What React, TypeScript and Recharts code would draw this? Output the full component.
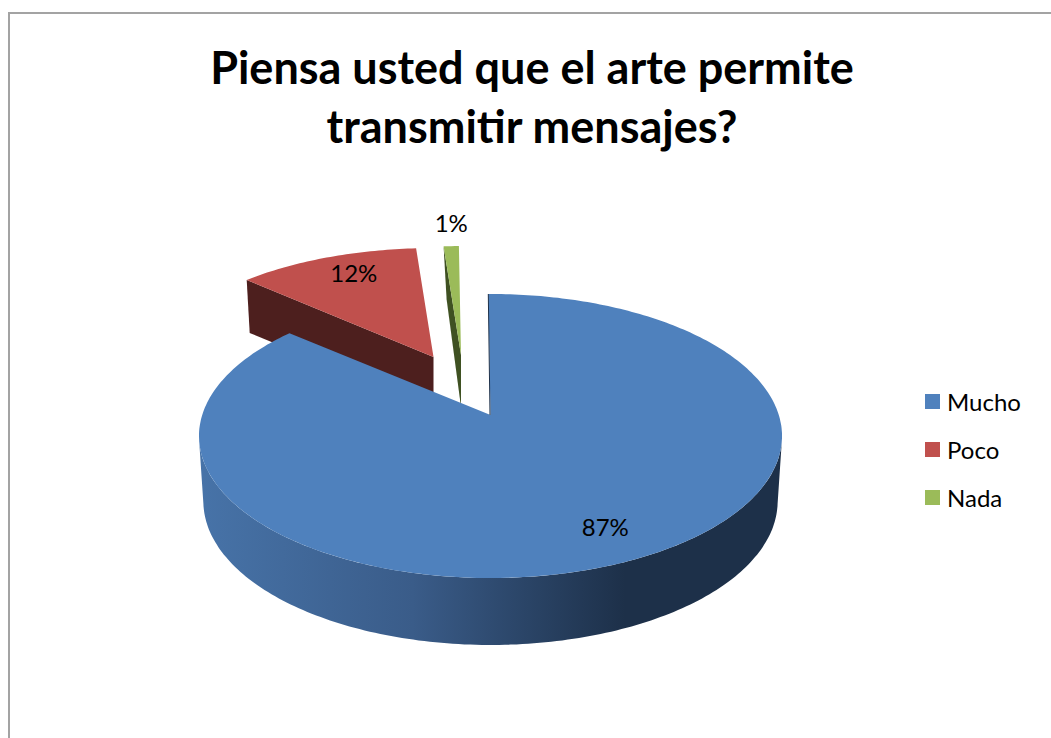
import { PieChart, Pie, Legend } from 'recharts'

const categories = ['Mucho', 'Poco', 'Nada']
const values = [87, 12, 1]
const topColors = ['#4f81bd', '#c0504d', '#9bbb59']
const cutColors = ['#1d3049', '#4d1f1e', '#3f5122']
const titleLines = ['Piensa usted que el arte permite', 'transmitir mensajes?']

const data = categories.map((name, i) => ({ name, value: values[i], fill: topColors[i] }))

// look of the tilted pie, fitted by eye
const PIE_X = 490.5
const PIE_Y = 415
const RADIUS = 288.3
const TILT = 138.9
const PERSPECTIVE = -0.1479
const BIG_SLICE_TRIM = 2.5 // the 3D view makes the big slice stop a bit short of its share
const EXPLODE: Record<string, { dx: number; dy: number; sx: number; sy: number }> = {
  Mucho: { dx: 0, dy: 0, sx: 1, sy: 1 },
  Poco: { dx: -57, dy: -58, sx: 0.97, sy: 0.9 },
  Nada: { dx: -29.5, dy: -60, sx: 0.97, sy: 0.9 },
}
const LABEL_SPOT: Record<string, { f: number; dx: number; dy: number }> = {
  Mucho: { f: 0.8, dx: 10, dy: -2 },
  Poco: { f: 0.75, dx: 3, dy: -8 },
  Nada: { f: 1, dx: 0, dy: -24 },
}
const FONT = 'Lato, sans-serif'

function project(name: string, angle: number, f = 1) {
  const e = EXPLODE[name]
  const rad = ((90 - angle) * Math.PI) / 180
  const u = Math.sin(rad) * f
  const v = -Math.cos(rad) * f
  const d = 1 + PERSPECTIVE * v
  return {
    x: PIE_X + e.dx + (RADIUS * u * e.sx) / d,
    y: PIE_Y + e.dy + (TILT * v * e.sy) / d,
  }
}

function rim(name: string, from: number, to: number) {
  const pts = []
  const steps = Math.max(2, Math.ceil(Math.abs(to - from)))
  for (let i = 0; i <= steps; i++) pts.push(project(name, from + ((to - from) * i) / steps))
  return pts
}

const toPath = (pts: { x: number; y: number }[]) =>
  pts.map((p, i) => `${i ? 'L' : 'M'}${p.x.toFixed(1)},${p.y.toFixed(1)}`).join(' ') + ' Z'

function BigSlice(props: any) {
  const { name, startAngle, endAngle } = props
  const apex = project(name, 0, 0)
  const top = rim(name, startAngle, endAngle + BIG_SLICE_TRIM)
  // front wall: between the widest points of the rim
  const front = rim(name, -9.5, -170.5)
  const lower = front.map((p) => ({
    x: PIE_X + (p.x - PIE_X) * 0.985,
    y: p.y + 65 + (p.y - PIE_Y) * 0.012,
  }))
  return (
    <g>
      <defs>
        <linearGradient id="wallBlue" gradientUnits="userSpaceOnUse" x1="200" y1="0" x2="625" y2="0">
          <stop offset="0%" stopColor="#4773a8" />
          <stop offset="50%" stopColor="#3a5c89" />
          <stop offset="100%" stopColor="#1d3049" />
        </linearGradient>
      </defs>
      <path d={toPath([...front, ...lower.reverse()])} fill="url(#wallBlue)" />
      <path d={toPath([apex, ...top])} fill={props.fill} />
      <path d={`M${top[0].x},${top[0].y} L${apex.x - 0.5},${apex.y}`} stroke={cutColors[0]} strokeWidth={1} fill="none" />
    </g>
  )
}

function SmallSlice(props: any) {
  const { name, startAngle, endAngle, fill } = props
  const apex = project(name, 0, 0)
  const top = rim(name, startAngle, endAngle)
  const cut = [apex, top[0], { x: top[0].x + 3, y: top[0].y + 53 }, { x: apex.x, y: apex.y + 52 }]
  return (
    <g>
      <path d={toPath(cut)} fill={cutColors[categories.indexOf(name)]} />
      <path d={toPath([apex, ...top])} fill={fill} />
    </g>
  )
}

function backShape(props: any) {
  return props.name === 'Mucho' ? <g /> : <SmallSlice {...props} />
}

function frontShape(props: any) {
  return props.name === 'Mucho' ? <BigSlice {...props} /> : <g />
}

function renderLabel(props: any) {
  const { name, midAngle, percent } = props
  const s = LABEL_SPOT[name]
  const p = project(name, midAngle, s.f)
  return (
    <text
      x={p.x + s.dx}
      y={p.y + s.dy}
      textAnchor="middle"
      dominantBaseline="central"
      fontFamily={FONT}
      fontSize={24}
      fill="#000"
    >
      {`${Math.round(percent * 100)}%`}
    </text>
  )
}

function renderLegend(props: any) {
  // both pies report their items, so keep one of each
  const payload = props.payload || []
  const items = categories.map((name) => payload.find((item: any) => item.value === name)).filter(Boolean)
  return (
    <div>
      {items.map((item: any) => (
        <div
          key={item.value}
          style={{ height: 48, display: 'flex', alignItems: 'center', fontFamily: FONT, fontSize: 24, color: '#000' }}
        >
          <span style={{ width: 15, height: 15, marginRight: 7, background: item.color, display: 'inline-block' }} />
          {item.value}
        </div>
      ))}
    </div>
  )
}

export default function App() {
  return (
    <div style={{ position: 'absolute', left: 0, top: 0, width: 1051, height: 738, overflow: 'hidden', background: '#fff' }}>
      <PieChart width={1051} height={738} margin={{ top: 0, right: 0, bottom: 0, left: 0 }}>
        <rect x={9} y={13} width={1200} height={900} fill="#fff" stroke="#a3a3a3" strokeWidth={2} />
        {titleLines.map((line, i) => (
          <text key={line} x={532} y={84 + i * 59} textAnchor="middle" fontFamily={FONT} fontSize={45} fontWeight={700} fill="#000">
            {line}
          </text>
        ))}
        <Pie
          data={data}
          dataKey="value"
          nameKey="name"
          cx={PIE_X}
          cy={PIE_Y}
          outerRadius={RADIUS}
          startAngle={90.5}
          endAngle={-269.5}
          stroke="none"
          shape={backShape}
          legendType="none"
          isAnimationActive={false}
        />
        <Pie
          data={data}
          dataKey="value"
          nameKey="name"
          cx={PIE_X}
          cy={PIE_Y}
          outerRadius={RADIUS}
          startAngle={90.5}
          endAngle={-269.5}
          stroke="none"
          shape={frontShape}
          label={renderLabel}
          labelLine={false}
          legendType="square"
          isAnimationActive={false}
        />
        <Legend
          layout="vertical"
          align="right"
          verticalAlign="top"
          content={renderLegend}
          wrapperStyle={{ left: 925, top: 377, width: 126, right: 'auto', bottom: 'auto' }}
        />
      </PieChart>
    </div>
  )
}
